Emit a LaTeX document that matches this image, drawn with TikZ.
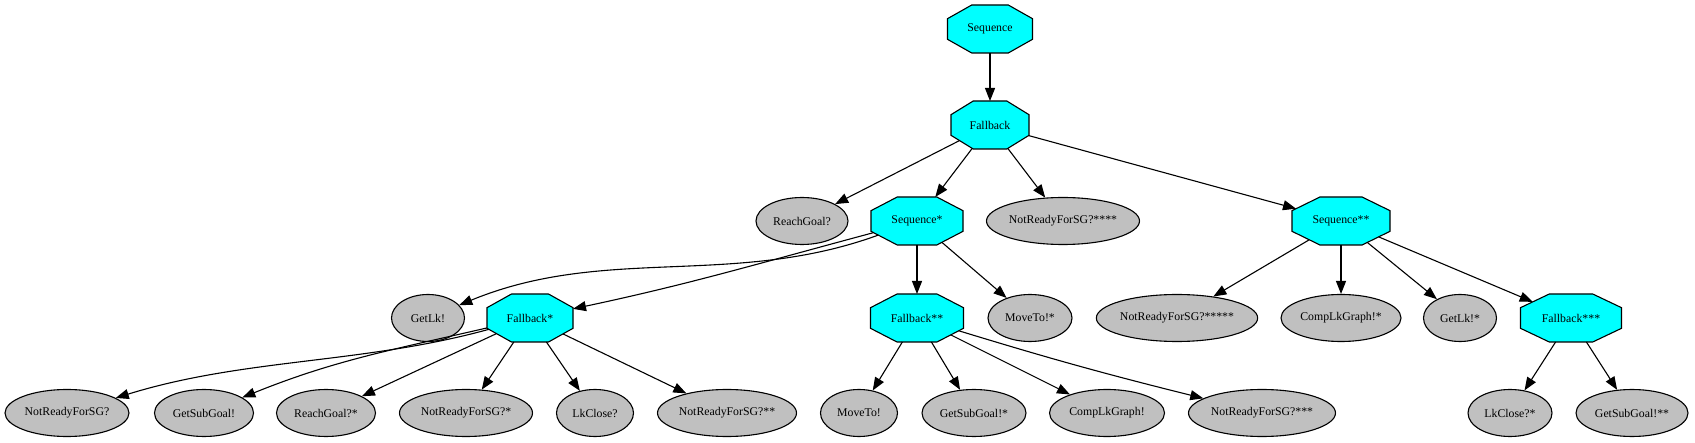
\documentclass[tikz,border=0pt]{standalone}
\usepackage{fontspec}
\setmainfont{Liberation Serif}
\usetikzlibrary{arrows.meta,shapes.geometric}
\definecolor{ctrlcyan}{RGB}{0,255,255}
\definecolor{leafgray}{RGB}{192,192,192}

% stretched octagon, with a border that follows the cut corners
\makeatletter
\pgfdeclareshape{octbox}{%
  \inheritsavedanchors[from=rectangle]%
  \inheritanchor[from=rectangle]{center}%
  \inheritanchor[from=rectangle]{mid}%
  \inheritanchor[from=rectangle]{base}%
  \inheritanchor[from=rectangle]{north}%
  \inheritanchor[from=rectangle]{south}%
  \inheritanchor[from=rectangle]{east}%
  \inheritanchor[from=rectangle]{west}%
  \inheritanchor[from=rectangle]{north east}%
  \inheritanchor[from=rectangle]{north west}%
  \inheritanchor[from=rectangle]{south east}%
  \inheritanchor[from=rectangle]{south west}%
  \backgroundpath{%
    \southwest\edef\octxa{\the\pgf@x}\edef\octya{\the\pgf@y}%
    \northeast\edef\octxb{\the\pgf@x}\edef\octyb{\the\pgf@y}%
    \pgfmathsetmacro\octcx{.285*(\octxb-\octxa)}%
    \pgfmathsetmacro\octcy{.285*(\octyb-\octya)}%
    \pgfpathmoveto{\pgfpoint{\octxa+\octcx}{\octyb}}%
    \pgfpathlineto{\pgfpoint{\octxb-\octcx}{\octyb}}%
    \pgfpathlineto{\pgfpoint{\octxb}{\octyb-\octcy}}%
    \pgfpathlineto{\pgfpoint{\octxb}{\octya+\octcy}}%
    \pgfpathlineto{\pgfpoint{\octxb-\octcx}{\octya}}%
    \pgfpathlineto{\pgfpoint{\octxa+\octcx}{\octya}}%
    \pgfpathlineto{\pgfpoint{\octxa}{\octya+\octcy}}%
    \pgfpathlineto{\pgfpoint{\octxa}{\octyb-\octcy}}%
    \pgfpathclose
  }%
  \anchorborder{%
    \edef\octdx{\the\pgf@x}\edef\octdy{\the\pgf@y}%
    \southwest\edef\octxa{\the\pgf@x}\edef\octya{\the\pgf@y}%
    \northeast\edef\octxb{\the\pgf@x}\edef\octyb{\the\pgf@y}%
    \pgfmathsetmacro\octa{(\octxb-\octxa)/2}%
    \pgfmathsetmacro\octb{(\octyb-\octya)/2}%
    \pgfmathsetmacro\octu{abs(\octdx)/\octa}%
    \pgfmathsetmacro\octv{abs(\octdy)/\octb}%
    \pgfmathsetmacro\octm{max(\octu,\octv,(\octu+\octv)/1.43,0.0001)}%
    \pgfpoint{(\octxa+\octxb)/2+\octdx/\octm}{(\octya+\octyb)/2+\octdy/\octm}%
  }%
}
\makeatother

\tikzset{
  ctrl/.style={shape=octbox, draw, fill=ctrlcyan, line width=1.1pt, line join=miter,
    inner sep=0pt, outer sep=0pt, minimum width=#1, minimum height=48pt},
  leaf/.style={ellipse, draw, fill=leafgray, line width=1.1pt, inner sep=0pt,
    minimum width=#1, minimum height=47pt},
  arr/.style={-{Triangle[length=13pt,width=10pt]}, line width=1.1pt},
}

\begin{document}
\begin{tikzpicture}[x=1pt, y=1pt, font=\fontsize{11.8}{14}\selectfont]
	%%%%% START %%%%%
	\useasboundingbox (0,0) rectangle (1695,-443);

	% control nodes
	\node[ctrl=85pt] (seq) at (990,-29) {Sequence};
	\node[ctrl=78pt] (fb) at (990,-125) {Fallback};
	\node[ctrl=92pt] (seqa) at (917,-221) {Sequence*};
	\node[ctrl=98pt] (seqb) at (1341,-221) {Sequence**};
	\node[ctrl=86pt] (fba) at (530,-318) {Fallback*};
	\node[ctrl=93pt] (fbb) at (917,-318) {Fallback**};
	\node[ctrl=101pt] (fbc) at (1571,-318) {Fallback***};

	% leaves, second row
	\node[leaf=92pt] (reachgoal) at (802,-221) {ReachGoal?};
	\node[leaf=153pt] (notready4) at (1063,-221) {NotReadyForSG?****};

	% leaves, third row
	\node[leaf=73pt] (getlk) at (428,-318) {GetLk!};
	\node[leaf=84pt] (movetoa) at (1030,-318) {MoveTo!*};
	\node[leaf=160pt] (notready5) at (1177,-318) {NotReadyForSG?*****};
	\node[leaf=120pt] (complka) at (1341,-318) {CompLkGraph!*};
	\node[leaf=73pt] (getlka) at (1460,-318) {GetLk!*};

	% leaves, bottom row
	\node[leaf=124pt] (notready) at (67,-413) {NotReadyForSG?};
	\node[leaf=99pt] (getsub) at (204,-413) {GetSubGoal!};
	\node[leaf=99pt] (reachgoala) at (326,-413) {ReachGoal?*};
	\node[leaf=133pt] (notready1) at (466,-413) {NotReadyForSG?*};
	\node[leaf=77pt] (lkclose) at (595,-413) {LkClose?};
	\node[leaf=139pt] (notready2) at (727,-413) {NotReadyForSG?**};
	\node[leaf=77pt] (moveto) at (859,-413) {MoveTo!};
	\node[leaf=104pt] (getsuba) at (974,-413) {GetSubGoal!*};
	\node[leaf=115pt] (complk) at (1107,-413) {CompLkGraph!};
	\node[leaf=147pt] (notready3) at (1262,-413) {NotReadyForSG?***};
	\node[leaf=84pt] (lkclosea) at (1510,-413) {LkClose?*};
	\node[leaf=112pt] (getsubb) at (1632,-413) {GetSubGoal!**};

	% edges
	\draw[arr] (seq) -- (fb);
	\foreach \c in {reachgoal,seqa,notready4,seqb}
		\draw[arr] (fb) -- (\c);

	\draw[arr] (seqa) .. controls +(-184,-67) and +(177,73) .. (getlk);
	\draw[arr] (seqa) to[out=195,in=12] (fba);
	\draw[arr] (seqa) -- (fbb);
	\draw[arr] (seqa) -- (movetoa);

	\foreach \c in {notready5,complka,getlka,fbc}
		\draw[arr] (seqb) -- (\c);

	\draw[arr] (fba) .. controls +(-167,-46) and +(178,55) .. (notready);
	\draw[arr] (fba) to[out=193,in=22] (getsub);
	\foreach \c in {reachgoala,notready1,lkclose,notready2}
		\draw[arr] (fba) -- (\c);

	\draw[arr] (fbb) -- (moveto);
	\draw[arr] (fbb) -- (getsuba);
	\draw[arr] (fbb) -- (complk);
	\draw[arr] (fbb) to[out=-17,in=166] (notready3);

	\draw[arr] (fbc) -- (lkclosea);
	\draw[arr] (fbc) -- (getsubb);
	%%%%% END %%%%%
\end{tikzpicture}
\end{document}
